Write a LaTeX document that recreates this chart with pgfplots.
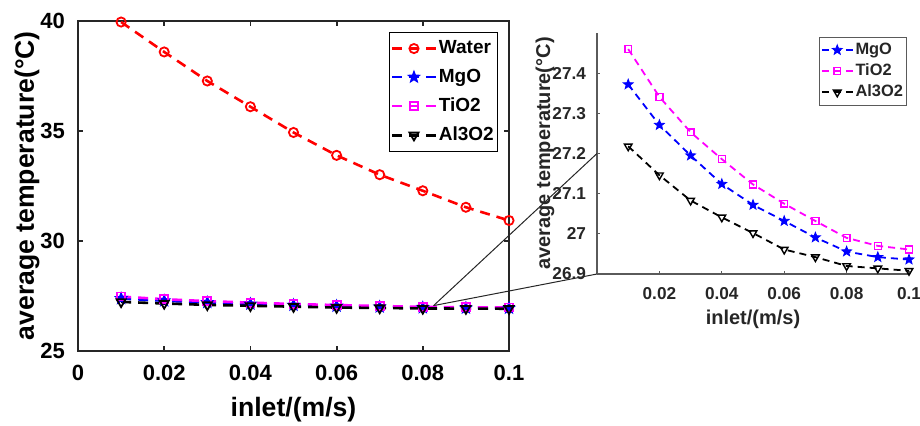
\documentclass[border=0pt]{standalone}
\usepackage{pgfplots}
\pgfplotsset{compat=1.18}
\usepackage{pgfplotstable}
\usepackage{fontspec}
\setmainfont{Liberation Sans}
\usetikzlibrary{plotmarks}
\pgfdeclareplotmark{pentagram}{%
 \pgfpathmoveto{\pgfpointpolar{90}{\pgfplotmarksize}}%
 \pgfpathlineto{\pgfpointpolar{126}{0.42\pgfplotmarksize}}%
 \pgfpathlineto{\pgfpointpolar{162}{\pgfplotmarksize}}%
 \pgfpathlineto{\pgfpointpolar{198}{0.42\pgfplotmarksize}}%
 \pgfpathlineto{\pgfpointpolar{234}{\pgfplotmarksize}}%
 \pgfpathlineto{\pgfpointpolar{270}{0.42\pgfplotmarksize}}%
 \pgfpathlineto{\pgfpointpolar{306}{\pgfplotmarksize}}%
 \pgfpathlineto{\pgfpointpolar{342}{0.42\pgfplotmarksize}}%
 \pgfpathlineto{\pgfpointpolar{18}{\pgfplotmarksize}}%
 \pgfpathlineto{\pgfpointpolar{54}{0.42\pgfplotmarksize}}%
 \pgfpathclose\pgfusepathqfillstroke}
\definecolor{axgray}{HTML}{262626}
\definecolor{ingray}{HTML}{5A5A5A}
\definecolor{mred}{rgb}{1,0,0}
\definecolor{mblue}{rgb}{0,0,1}
\definecolor{mmag}{rgb}{1,0,1}
\pgfplotstableread{
x water mgo tio2 al
0.01 39.94 27.372 27.460 27.218
0.02 38.58 27.271 27.341 27.146
0.03 37.26 27.195 27.253 27.083
0.04 36.09 27.124 27.186 27.041
0.05 34.92 27.072 27.123 27.002
0.06 33.88 27.032 27.075 26.961
0.07 33.00 26.991 27.032 26.942
0.08 32.27 26.956 26.990 26.920
0.09 31.52 26.942 26.970 26.914
0.10 30.92 26.936 26.961 26.908
}\data
\begin{document}
\begin{tikzpicture}
\useasboundingbox (0,0) rectangle (460pt,212.5pt);
% main axis
\begin{axis}[at={(39pt,37.15pt)}, anchor=south west, scale only axis,
  width=215.5pt, height=165pt,
  xmin=0, xmax=0.1, ymin=25, ymax=40,
  xtick={0,0.02,0.04,0.06,0.08,0.1}, ytick={25,30,35,40},
  scaled x ticks=false,
  tick align=inside, tick pos=both, major tick length=2.5pt,
  axis line style={axgray, line width=0.9pt},
  every tick/.style={axgray, line width=0.9pt},
  /pgf/number format/assume math mode=true,
  xticklabel style={/pgf/number format/fixed, /pgf/number format/precision=2, font=\bfseries\fontsize{11}{13}\selectfont, yshift=-3.5pt},
  yticklabel style={font=\bfseries\fontsize{11}{13}\selectfont, xshift=-3pt},
  xlabel={inlet/(m/s)}, ylabel={average temperature(\textdegree C)},
  xlabel style={at={(axis description cs:0.5,-0.18)}, anchor=center, font=\bfseries\fontsize{13.3}{15}\selectfont},
  ylabel style={at={(axis description cs:-0.118,0.5)}, anchor=center, rotate=0, font=\bfseries\fontsize{13.3}{15}\selectfont},
  every axis plot/.append style={line width=1.3pt, dash pattern=on 5pt off 3.5pt},
  legend style={at={(0.9745,0.966)}, anchor=north east, draw=black, line width=0.6pt, fill=white,
    font=\bfseries\fontsize{9.5}{11}\selectfont, row sep=2.2pt, inner xsep=0.8pt, inner ysep=2pt,
    nodes={inner xsep=1pt}},
  legend cell align=left,
  legend image code/.code={\draw[mark repeat=2,mark phase=2,#1] plot coordinates {(0cm,0cm)(0.38cm,0cm)(0.76cm,0cm)};},
]
\addplot[mred, mark=o, mark size=2.3pt, mark options={solid, line width=0.9pt}] table[x=x,y=water] {\data};
\addlegendentry{Water}
\addplot[mblue, mark=pentagram, mark size=3pt, mark options={solid, line width=0.5pt, fill=mblue}] table[x=x,y=mgo] {\data};
\addlegendentry{MgO}
\addplot[mmag, mark=square, mark size=2pt, mark options={solid, line width=0.9pt}] table[x=x,y=tio2] {\data};
\addlegendentry{TiO2}
\addplot[black, mark=triangle, mark size=2.6pt, mark options={solid, rotate=180, line width=0.9pt}] table[x=x,y=al] {\data};
\addlegendentry{Al3O2}
\coordinate (P) at (axis cs:0.0825,27.05);
\end{axis}
% inset axis
\begin{axis}[at={(298.5pt,75.5pt)}, anchor=south west, scale only axis,
  width=156pt, height=120.5pt,
  xmin=0, xmax=0.1, ymin=26.9, ymax=27.5,
  xtick={0.02,0.04,0.06,0.08,0.1}, ytick={26.9,27,27.1,27.2,27.3,27.4},
  scaled x ticks=false, scaled y ticks=false,
  axis lines=left, axis line style={-, ingray, line width=0.7pt},
  tick align=inside, major tick length=1.6pt,
  every tick/.style={ingray, line width=0.6pt},
  /pgf/number format/assume math mode=true,
  xticklabel style={/pgf/number format/fixed, /pgf/number format/precision=2, font=\bfseries\fontsize{8.6}{10}\selectfont, text=axgray, yshift=-3.3pt},
  yticklabel style={/pgf/number format/fixed, /pgf/number format/precision=1, font=\bfseries\fontsize{8.6}{10}\selectfont, text=axgray, xshift=-2pt},
  xlabel={inlet/(m/s)}, ylabel={average temperature(\textdegree C)},
  xlabel style={at={(axis description cs:0.5,-0.19)}, anchor=center, text=axgray, font=\bfseries\fontsize{10}{12}\selectfont},
  ylabel style={at={(axis description cs:-0.167,0.5)}, anchor=center, rotate=0, text=axgray, font=\bfseries\fontsize{10}{12}\selectfont},
  every axis plot/.append style={line width=0.9pt, dash pattern=on 3.5pt off 2.5pt},
  legend style={at={(0.9936,0.983)}, anchor=north east, draw=ingray, line width=0.5pt, fill=white,
    font=\bfseries\fontsize{8.2}{9.5}\selectfont, text=axgray, row sep=0pt, inner xsep=0.8pt, inner ysep=1pt,
    nodes={inner xsep=1pt, inner ysep=1.6pt}},
  legend cell align=left,
  legend image code/.code={\draw[mark repeat=2,mark phase=2,#1] plot coordinates {(0cm,0cm)(0.27cm,0cm)(0.54cm,0cm)};},
]
\addplot[mblue, mark=pentagram, mark size=2.6pt, mark options={solid, line width=0.4pt, fill=mblue}] table[x=x,y=mgo] {\data};
\addlegendentry{MgO}
\addplot[mmag, mark=square, mark size=1.7pt, mark options={solid, line width=0.7pt}] table[x=x,y=tio2] {\data};
\addlegendentry{TiO2}
\addplot[black, mark=triangle, mark size=2.2pt, mark options={solid, rotate=180, line width=0.7pt}] table[x=x,y=al] {\data};
\addlegendentry{Al3O2}
\coordinate (A) at (axis cs:0,27.2);
\coordinate (B) at (axis cs:0,26.9);
\end{axis}
\draw[axgray, line width=0.5pt] (P) -- (A);
\draw[axgray, line width=0.5pt] (P) -- (B);
\end{tikzpicture}
\end{document}
